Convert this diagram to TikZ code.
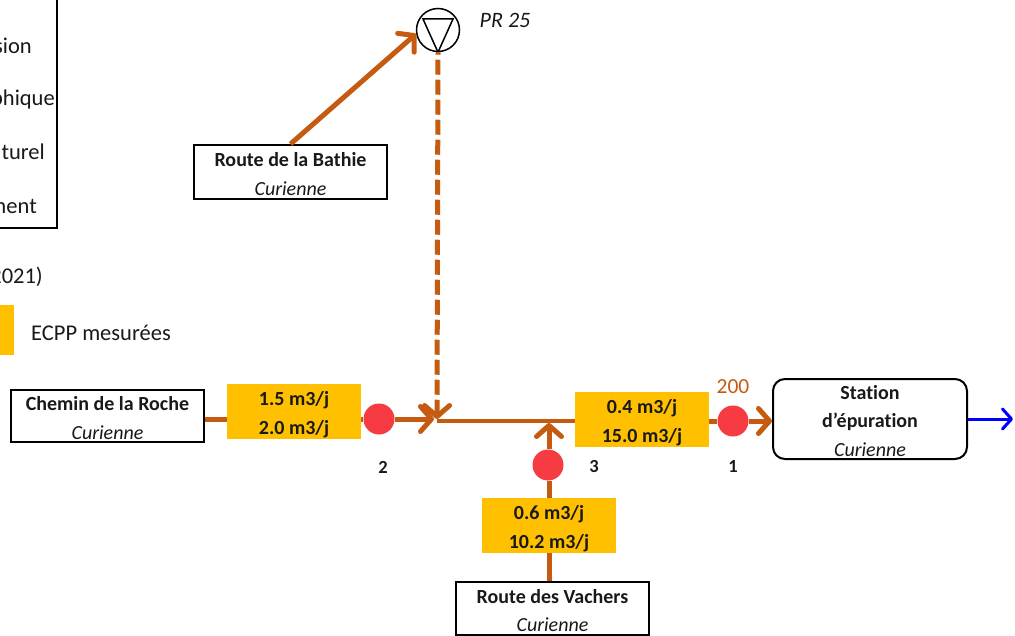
\documentclass[tikz,border=0pt]{standalone}
\usepackage{fontspec}
\setmainfont{Carlito}[Ligatures=CommonOff]
\usetikzlibrary{arrows.meta}
\definecolor{pipe}{HTML}{C55A11}
\definecolor{flow}{HTML}{FFC000}
\definecolor{probe}{HTML}{F63C42}

\begin{document}
\begin{tikzpicture}[x=1pt, y=-1pt, node distance=100pt,
  txt/.style={font=\fontsize{20}{28.5}\selectfont, text=black!90},
  place/.style={rectangle, draw=black, line width=2pt, fill=white, txt, text height=49pt, text depth=2.5pt, align=center, inner sep=0pt, minimum width=193pt, minimum height=53pt},
  plant/.style={place, rounded corners=12pt, text height=76pt, text depth=2pt, minimum width=194pt, minimum height=80pt},
  flowbox/.style={rectangle, fill=flow, txt, font=\fontsize{20}{28.5}\selectfont\bfseries, text height=49pt, text depth=4pt, align=center, inner sep=0pt, minimum width=134pt, minimum height=55pt},
  probedot/.style={circle, fill=probe, inner sep=0pt, minimum size=31pt},
  pumpnode/.style={circle, draw=black, line width=1.5pt, inner sep=0pt, minimum size=43pt},
  numlabel/.style={txt, font=\fontsize{18.5}{22}\selectfont\bfseries},
  legendtxt/.style={txt, font=\fontsize{22.5}{26}\selectfont, inner sep=0pt},
  pipeline/.style={draw=pipe, line width=5pt},
  arrow/.style={pipeline, -{Straight Barb[length=11pt, width=25pt, line width=5pt, round]}},
  outarrow/.style={draw=blue, line width=3pt, -{Straight Barb[length=9pt, width=20pt, line width=3pt, round]}}
]
\useasboundingbox (0,0) rectangle (1015,636);

% legend, cut by the page edge
\node (legendframe) [rectangle, draw=black, line width=2pt, inner sep=0pt, minimum width=80pt, minimum height=250pt] at (17,103) {};
\node (legendone) [legendtxt, anchor=east] at (32,46) {sion};
\node (legendtwo) [legendtxt, anchor=east] at (55,99.5) {phique};
\node (legendthree) [legendtxt, anchor=east] at (45,152) {turel};
\node (legendfour) [legendtxt, anchor=east] at (37,206) {ment};
\node (legendyear) [legendtxt, anchor=east] at (43,277) {2021)};
\node (legendswatch) [rectangle, fill=flow, inner sep=0pt, minimum width=28pt, minimum height=50pt] at (0,330) {};
\node (legendecpp) [legendtxt, right of=legendswatch, anchor=west, xshift=-69pt, yshift=-3pt] {ECPP mesurées};

% main branch
\node (roche) [place, minimum height=52pt] at (107.5,416) {\textbf{Chemin de la Roche}\\\textit{Curienne}};
\node (flowroche) [flowbox, right of=roche, xshift=86.5pt, yshift=4.5pt] {1.5 m3/j\\2.0 m3/j};
\node (dotroche) [probedot, right of=flowroche, xshift=-15pt, yshift=-7.5pt] {};
\coordinate [right of=dotroche, xshift=-42pt, yshift=-2pt] (junction);
\node (flowstep) [flowbox, right of=junction, xshift=105pt, yshift=1.5pt] {0.4 m3/j\\15.0 m3/j};
\node (dotstep) [probedot, right of=flowstep, xshift=-9pt, yshift=-1.5pt] {};
\node (station) [plant, right of=dotstep, xshift=37pt, yshift=2pt] {\textbf{Station}\\\textbf{d’épuration}\\\textit{Curienne}};
\coordinate [right of=station, xshift=43pt] (outlet);

% lower branch
\node (flowvachers) [flowbox, below of=junction, xshift=112pt, yshift=-4.5pt] {0.6 m3/j\\10.2 m3/j};
\node (dotvachers) [probedot, above of=flowvachers, xshift=-1pt, yshift=-39.5pt] {};
\node (vachers) [place, below of=flowvachers, xshift=3.5pt, yshift=17pt] {\textbf{Route des Vachers}\\\textit{Curienne}};

% upper branch
\node (pump) [pumpnode] at (438,30) {};
\node (bathie) [place, minimum height=54pt, left of=pump, xshift=-47.5pt, yshift=-142pt] {\textbf{Route de la Bathie}\\\textit{Curienne}};
\node (prname) [txt, font=\fontsize{22}{26}\selectfont\itshape, right of=pump, xshift=-33pt, yshift=10pt] {PR 25};

% numbers
\node (numroche) [numlabel, below of=dotroche, xshift=4pt, yshift=52pt] {2};
\node (numvachers) [numlabel, right of=dotvachers, xshift=-54pt, yshift=-1pt] {3};
\node (numstep) [numlabel, below of=dotstep, yshift=55pt] {1};
\node (numflow) [txt, font=\fontsize{21.5}{26}\selectfont, text=pipe, above of=dotstep, yshift=-66pt] {200};

\draw [line width=1.5pt] ([xshift=-15pt,yshift=11pt]pump.center) -- ([xshift=15pt,yshift=11pt]pump.center) -- (pump.south) -- cycle;

\draw [pipeline] (roche.east |- dotroche) -- (flowroche.west |- dotroche);
\draw [pipeline] (flowroche.east |- dotroche) -- (dotroche);
\draw [arrow] (dotroche) -- ([xshift=-3pt,yshift=2pt]junction);
\draw [pipeline, line width=4pt] (junction) -- (flowstep.west |- junction);
\draw [pipeline] (flowstep.east |- dotstep) -- (dotstep);
\draw [arrow] (dotstep) -- (station.west |- dotstep);
\draw [outarrow] (station.east) -- (outlet);
\draw [pipeline] (flowvachers.south) -- (flowvachers.south |- vachers.north);
\draw [pipeline] (flowvachers.north) -- (flowvachers.north |- dotvachers.south);
\draw [arrow] (flowvachers.north |- dotvachers.north) -- ([yshift=-2pt]flowvachers.north |- junction);
\draw [arrow] (bathie.north) -- (pump.190);
\draw [arrow, dash pattern=on 15pt off 5pt, dash phase=12.5pt] (pump.south) -- ([yshift=2pt]junction);

\end{tikzpicture}
\end{document}
